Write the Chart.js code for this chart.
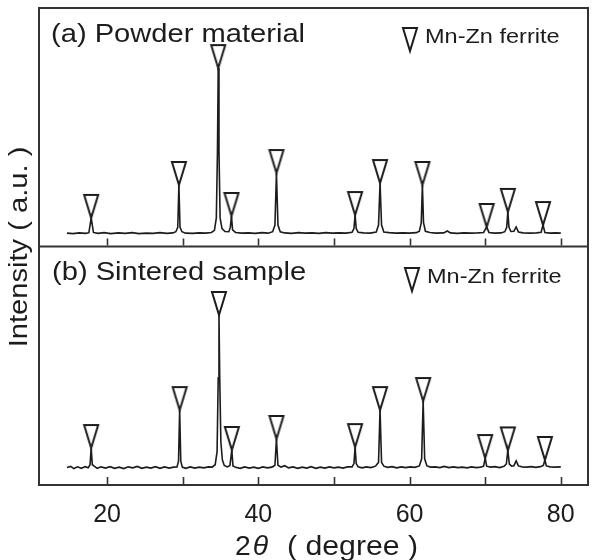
<!DOCTYPE html>
<html>
<head>
<meta charset="utf-8">
<script src="https://cdn.jsdelivr.net/npm/chart.js@4/dist/chart.umd.min.js"></script>
<style>
  html, body { margin: 0; padding: 0; background: #fff; }
  #wrap { width: 593px; height: 560px; }
</style>
</head>
<body>
<div id="wrap"><canvas id="xrdChart" width="593" height="560"></canvas></div>
<script>
// 2θ tick marks (labels only every 20)
const xTicks = [20, 30, 40, 50, 60, 70, 80];

// (a) powder material: [2θ, intensity]
const powderPattern = [
  [14.7,5.6],[15.5,5.4],[16.3,5.7],[17.2,5.5],[17.6,5.8],[17.9,12.0],[18.2,5.9],[18.8,5.5],
  [19.6,5.8],[20.5,5.4],[21.5,5.7],[22.4,5.5],[23.3,5.8],[24.2,5.4],[25.2,5.6],[26.1,5.5],
  [27.0,5.8],[27.9,5.5],[28.7,5.7],[29.1,6.2],[29.35,8],[29.5,25.8],[29.65,8],[29.9,6.2],
  [30.4,5.6],[31.3,5.5],[32.2,5.7],[33.0,5.6],[33.8,5.9],[34.2,6.8],[34.45,12],[34.6,40],
  [34.7,74.8],[34.8,40],[34.95,12],[35.2,7.5],[35.6,6.3],[36.1,6.2],[36.3,8],[36.45,12.8],
  [36.6,7],[37.0,5.9],[37.8,5.6],[38.7,5.7],[39.6,5.5],[40.5,5.8],[41.3,5.6],[41.9,6.2],
  [42.2,9],[42.4,30.8],[42.6,9],[42.9,6.2],[43.5,5.7],[44.4,5.5],[45.3,5.8],[46.2,5.6],
  [47.1,5.7],[48.0,5.5],[48.9,5.8],[49.8,5.6],[50.7,5.7],[51.6,5.6],[52.4,6.0],[52.65,7.5],
  [52.8,13.2],[52.95,7.5],[53.2,6.0],[53.9,5.7],[54.8,5.6],[55.6,6.1],[55.9,9],[56.1,26.6],
  [56.3,9],[56.6,6.1],[57.3,5.8],[58.2,5.6],[59.1,5.7],[60.0,5.6],[60.9,5.8],[61.3,6.4],
  [61.55,10],[61.7,25.8],[61.85,10],[62.1,6.4],[62.7,5.9],[63.5,5.6],[64.5,5.7],[65.0,6.5],
  [65.4,5.7],[66.3,5.5],[67.2,5.7],[68.1,5.6],[69.0,5.7],[69.8,5.9],[70.2,8.2],[70.5,5.9],
  [71.2,5.6],[72.1,5.7],[72.6,6.2],[72.85,8],[73.0,14.5],[73.15,8],[73.4,6.3],[73.8,6.4],
  [74.1,8.2],[74.4,6.1],[75.0,5.7],[75.9,5.6],[76.8,5.7],[77.4,6.0],[77.65,9.0],[77.9,5.9],
  [78.6,5.6],[79.3,5.7],[80.0,5.6]
];
const powderPeaks = [17.9, 29.5, 34.7, 36.45, 42.4, 52.8, 56.1, 61.7, 70.2, 73.0, 77.65];
const powderPeakTops = [12.0, 25.8, 74.8, 12.8, 30.8, 13.2, 26.6, 25.8, 8.2, 14.5, 9.0];

// (b) sintered sample
const sinteredPattern = [
  [14.7,7.3],[15.2,7.8],[15.6,6.9],[16.1,7.6],[16.6,7.0],[17.1,7.7],[17.5,7.2],[17.75,8.5],
  [17.9,15.5],[18.05,8.5],[18.3,7.9],[18.7,7.0],[19.2,7.6],[19.8,7.1],[20.4,7.7],[21.0,7.0],
  [21.6,7.5],[22.2,6.9],[22.8,7.6],[23.4,7.2],[24.0,7.8],[24.6,7.0],[25.2,7.5],[25.8,7.1],
  [26.4,7.7],[27.0,7.0],[27.6,7.6],[28.2,7.1],[28.8,7.5],[29.25,7.6],[29.45,10],[29.6,31.4],
  [29.75,10],[29.95,7.5],[30.4,7.0],[31.0,7.6],[31.6,7.1],[32.2,7.5],[32.8,7.2],[33.4,7.6],
  [33.9,7.5],[34.3,8.5],[34.55,14],[34.7,45],[34.8,71.3],[34.9,45],[35.05,18],[35.25,10.5],
  [35.5,8.2],[35.9,7.6],[36.25,8.2],[36.5,14.7],[36.65,8],[37.0,7.4],[37.6,7.0],[38.2,7.6],
  [38.8,7.1],[39.4,7.5],[40.0,7.0],[40.6,7.6],[41.2,7.2],[41.8,7.5],[42.2,8.3],[42.4,19.3],
  [42.6,8.3],[43.0,7.5],[43.5,8.1],[44.0,7.2],[44.6,7.6],[45.2,7.0],[45.8,7.5],[46.4,7.1],
  [47.0,7.7],[47.6,7.0],[48.2,7.5],[48.8,7.1],[49.4,7.6],[50.0,7.2],[50.6,7.5],[51.2,7.1],
  [51.8,7.6],[52.4,7.6],[52.65,9],[52.8,15.9],[52.95,9],[53.2,7.6],[53.7,7.2],[54.3,7.6],
  [54.9,7.3],[55.5,7.9],[55.9,9.5],[56.1,31.4],[56.3,9.5],[56.6,7.9],[57.1,7.4],[57.7,7.7],
  [58.3,7.2],[58.9,7.6],[59.5,7.3],[60.1,7.6],[60.7,7.4],[61.3,8.0],[61.6,11],[61.8,35.2],
  [62.0,11],[62.3,8.0],[62.8,7.5],[63.4,7.6],[64.0,7.3],[64.6,7.8],[65.2,7.3],[65.8,7.6],
  [66.4,7.3],[67.0,7.5],[67.6,7.2],[68.2,7.6],[68.8,7.3],[69.4,7.5],[69.8,7.9],[70.0,11.3],
  [70.2,7.9],[70.7,7.5],[71.3,7.7],[71.9,7.3],[72.5,7.8],[72.8,8.8],[73.0,14.5],[73.2,8.8],
  [73.5,7.9],[73.8,8.1],[74.1,10.1],[74.4,8.0],[74.9,7.6],[75.5,7.5],[76.1,7.7],[76.7,7.4],
  [77.3,7.7],[77.7,8.2],[77.9,10.5],[78.1,8.0],[78.6,7.6],[79.2,7.5],[80.0,7.6]
];
const sinteredPeaks = [17.9, 29.6, 34.8, 36.5, 42.4, 52.8, 56.1, 61.8, 70.0, 73.0, 77.9];
const sinteredPeakTops = [15.5, 31.4, 71.3, 14.7, 19.3, 15.9, 31.4, 35.2, 11.3, 14.5, 10.5];

const panelLabels = ['(a) Powder material', '(b) Sintered sample'];
const phaseName = 'Mn-Zn ferrite';

const ink = '#1c1c1c';
const FONT = '"Liberation Sans", Arial, sans-serif';

// tall open triangle, tip at the image centre so it sits on the peak
function makeMarker() {
  const c = document.createElement('canvas');
  c.width = 18; c.height = 50;
  const g = c.getContext('2d');
  g.strokeStyle = ink;
  g.lineWidth = 2;
  g.lineJoin = 'miter';
  g.beginPath();
  g.moveTo(2, 2);
  g.lineTo(16, 2);
  g.lineTo(9, 25);
  g.closePath();
  g.stroke();
  return c;
}
const marker = makeMarker();

const toXY = arr => arr.map(p => ({ x: p[0], y: p[1] }));
const peaksXY = (xs, ys) => xs.map((v, i) => ({ x: v, y: ys[i] }));

function wideText(ctx, str, x, y, sx) {
  ctx.save();
  ctx.translate(x, y);
  ctx.scale(sx, 1);
  ctx.fillText(str, 0, 0);
  ctx.restore();
  return ctx.measureText(str).width * sx;
}

const framePlugin = {
  id: 'frame',
  afterDraw(chart) {
    const { ctx, chartArea, scales } = chart;
    const top = scales.yTop, bot = scales.yBot, x = scales.x;
    ctx.save();
    ctx.strokeStyle = '#333';
    ctx.lineWidth = 2;
    ctx.strokeRect(chartArea.left, chartArea.top, chartArea.right - chartArea.left, chartArea.bottom - chartArea.top);
    ctx.beginPath();
    ctx.moveTo(chartArea.left, top.bottom);
    ctx.lineTo(chartArea.right, top.bottom);
    ctx.stroke();

    // inward tick marks under each panel
    ctx.lineWidth = 1.6;
    ctx.beginPath();
    x.ticks.forEach(t => {
      const px = Math.round(x.getPixelForValue(t.value)) + 0.5;
      [top.bottom, bot.bottom].forEach(b => {
        ctx.moveTo(px, b - 1);
        ctx.lineTo(px, b - 8);
      });
    });
    ctx.stroke();

    ctx.fillStyle = ink;
    ctx.strokeStyle = ink;
    ctx.textBaseline = 'alphabetic';
    ctx.textAlign = 'left';

    // panel labels
    ctx.font = '26px ' + FONT;
    wideText(ctx, panelLabels[0], 51, 41.5, 1.12);
    wideText(ctx, panelLabels[1], 52, 279.5, 1.12);

    // phase legend
    ctx.font = '21px ' + FONT;
    ctx.drawImage(marker, 401, 26);
    wideText(ctx, phaseName, 425, 43, 1.12);
    ctx.drawImage(marker, 403, 266);
    wideText(ctx, phaseName, 427, 283, 1.12);

    // x title: 2θ ( degree )
    ctx.font = '27px ' + FONT;
    let cx = 235;
    cx += wideText(ctx, '2', cx, 555, 1.05) + 2;
    ctx.font = 'italic 27px ' + FONT;
    cx += wideText(ctx, 'θ', cx, 555, 1.05);
    ctx.font = '27px ' + FONT;
    wideText(ctx, '( degree )', 287, 555, 1.12);

    // y title
    ctx.font = '26px ' + FONT;
    ctx.save();
    ctx.translate(26.5, 247);
    ctx.rotate(-Math.PI / 2);
    ctx.scale(1.12, 1);
    ctx.textAlign = 'center';
    ctx.fillText('Intensity ( a.u. )', 0, 0);
    ctx.restore();
    ctx.restore();
  }
};

const panelAxis = {
  type: 'linear',
  position: 'left',
  stack: 'xrd',
  stackWeight: 1,
  min: 0,
  max: 100,
  display: true,
  ticks: { display: false },
  grid: { display: false, drawTicks: false },
  border: { display: false },
  afterFit: s => { s.width = 0; }
};

new Chart(document.getElementById('xrdChart'), {
  type: 'scatter',
  data: {
    datasets: [
      {
        label: panelLabels[0],
        data: toXY(powderPattern),
        yAxisID: 'yTop',
        showLine: true,
        borderColor: ink,
        borderWidth: 1.6,
        pointRadius: 0,
        tension: 0
      },
      {
        label: panelLabels[1],
        data: toXY(sinteredPattern),
        yAxisID: 'yBot',
        showLine: true,
        borderColor: ink,
        borderWidth: 1.6,
        pointRadius: 0,
        tension: 0
      },
      {
        label: phaseName,
        data: peaksXY(powderPeaks, powderPeakTops),
        yAxisID: 'yTop',
        showLine: false,
        pointStyle: marker
      },
      {
        label: phaseName,
        data: peaksXY(sinteredPeaks, sinteredPeakTops),
        yAxisID: 'yBot',
        showLine: false,
        pointStyle: marker
      }
    ]
  },
  options: {
    responsive: false,
    animation: false,
    layout: { padding: { left: 39, top: 8, right: 2, bottom: 0 } },
    plugins: {
      legend: { display: false },
      tooltip: { enabled: false }
    },
    scales: {
      x: {
        type: 'linear',
        position: 'bottom',
        min: 11,
        max: 83.6,
        afterBuildTicks: s => { s.ticks = xTicks.map(v => ({ value: v })); },
        afterFit: s => { s.height = 75; },
        ticks: {
          autoSkip: false,
          maxRotation: 0,
          padding: 15,
          color: ink,
          font: { family: FONT, size: 25 },
          callback: v => (v % 20 === 0 ? String(v) : '')
        },
        grid: { display: false, drawTicks: false },
        border: { display: false }
      },
      yBot: Object.assign({}, panelAxis),
      yTop: Object.assign({}, panelAxis)
    }
  },
  plugins: [framePlugin]
});
</script>
</body>
</html>
